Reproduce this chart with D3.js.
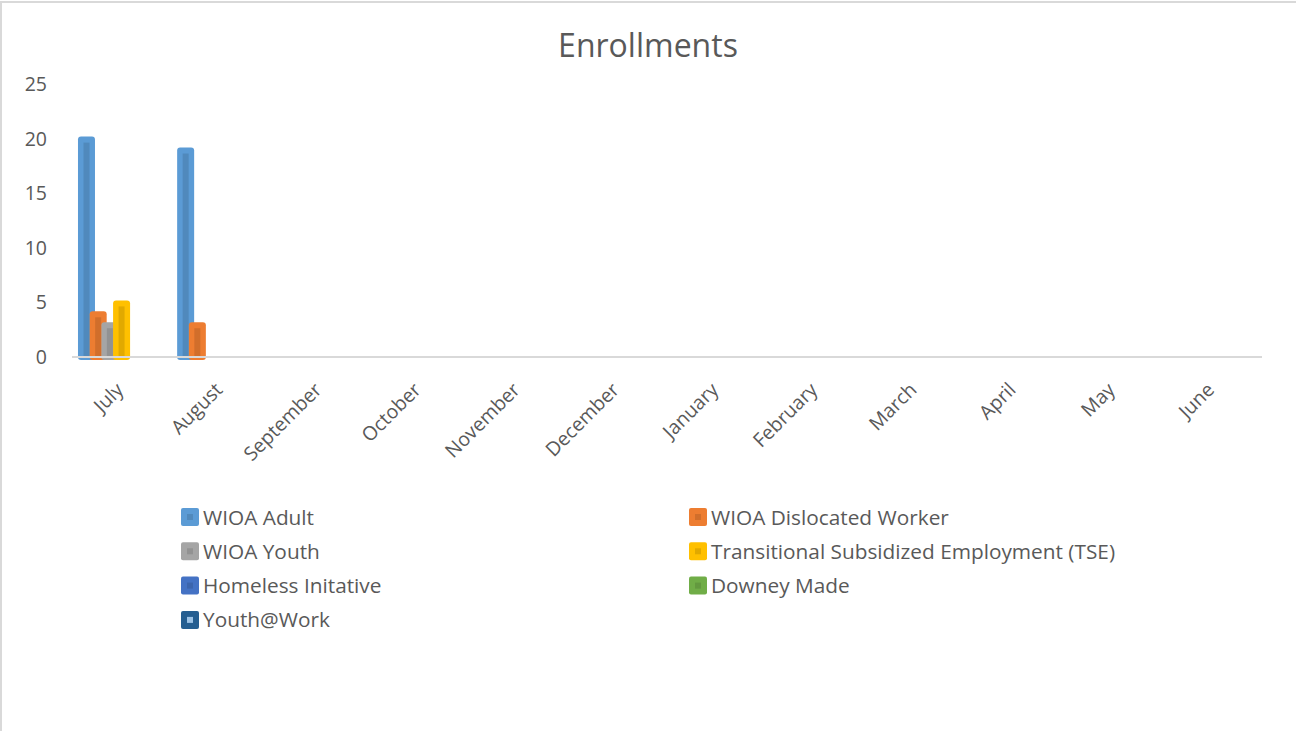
<!DOCTYPE html>
<html>
<head>
<meta charset="utf-8">
<script src="https://cdn.jsdelivr.net/npm/d3@7"></script>
<style>
  body { margin: 0; background: #fff; }
  text { font-family: "Open Sans", Lato, sans-serif; fill: #595959; }
</style>
</head>
<body>
<svg id="chart"></svg>
<script>
const width = 1296;
const height = 731;

// data
const months = ['July', 'August', 'September', 'October', 'November', 'December',
  'January', 'February', 'March', 'April', 'May', 'June'];
const seriesNames = ['WIOA Adult', 'WIOA Dislocated Worker', 'WIOA Youth',
  'Transitional Subsidized Employment (TSE)', 'Homeless Initative', 'Downey Made', 'Youth@Work'];
const colors = ['#5b9bd5', '#ed7d31', '#a5a5a5', '#ffc000', '#4472c4', '#70ad47', '#255e91'];
const wioaAdult = [20, 19, 0, 0, 0, 0, 0, 0, 0, 0, 0, 0];
const wioaDislocated = [4, 3, 0, 0, 0, 0, 0, 0, 0, 0, 0, 0];
const wioaYouth = [3, 0, 0, 0, 0, 0, 0, 0, 0, 0, 0, 0];
const tse = [5, 0, 0, 0, 0, 0, 0, 0, 0, 0, 0, 0];
const homeless = [0, 0, 0, 0, 0, 0, 0, 0, 0, 0, 0, 0];
const downeyMade = [0, 0, 0, 0, 0, 0, 0, 0, 0, 0, 0, 0];
const youthAtWork = [0, 0, 0, 0, 0, 0, 0, 0, 0, 0, 0, 0];
const yTicks = [0, 5, 10, 15, 20, 25];

const allSeries = [wioaAdult, wioaDislocated, wioaYouth, tse, homeless, downeyMade, youthAtWork];

const svg = d3.select('#chart')
  .attr('width', width)
  .attr('height', height);

// outer chart frame (clipped on the right and bottom)
svg.append('rect')
  .attr('x', 1).attr('y', 2)
  .attr('width', width + 20).attr('height', height + 20)
  .attr('fill', 'none')
  .attr('stroke', '#d9d9d9')
  .attr('stroke-width', 2);

svg.append('text')
  .attr('x', 648).attr('y', 57)
  .attr('text-anchor', 'middle')
  .style('font-size', '32px')
  .text('Enrollments');

const xScale = d3.scaleBand()
  .domain(months)
  .range([72, 1262]);

const yScale = d3.scaleLinear()
  .domain([0, 25])
  .range([357, 84]);

// y tick labels
svg.append('g')
  .selectAll('text')
  .data(yTicks)
  .join('text')
  .attr('x', 47)
  .attr('y', d => yScale(d))
  .attr('dy', '0.36em')
  .attr('text-anchor', 'end')
  .style('font-size', '19.5px')
  .text(d => d);

// bars: Excel style overlapping columns
const step = 11.7;
const barW = 17;
const groupW = step * (seriesNames.length - 1) + barW;
const subScale = d3.scaleBand()
  .domain(d3.range(seriesNames.length))
  .range([0, step * seriesNames.length]);

const bars = svg.append('g');
allSeries.forEach((vals, si) => {
  const g = bars.append('g');
  const data = months.map((m, i) => ({month: m, value: vals[i]})).filter(d => d.value > 0);
  const x0 = d => xScale(d.month) + xScale.bandwidth() / 2 - groupW / 2 + subScale(si);
  g.selectAll('rect.outer')
    .data(data)
    .join('rect')
    .attr('class', 'outer')
    .attr('x', d => x0(d))
    .attr('y', d => yScale(d.value) - 2)
    .attr('width', barW)
    .attr('height', d => yScale(0) - yScale(d.value) + 5)
    .attr('rx', 3)
    .attr('fill', colors[si]);
  g.selectAll('rect.inner')
    .data(data)
    .join('rect')
    .attr('class', 'inner')
    .attr('x', d => x0(d) + 5.5)
    .attr('y', d => yScale(d.value) + 4)
    .attr('width', 6)
    .attr('height', d => yScale(0) - yScale(d.value) - 4)
    .attr('fill', d3.color(colors[si]).darker(0.35));
});

// axis line
svg.append('line')
  .attr('x1', 72).attr('x2', 1262)
  .attr('y1', 357).attr('y2', 357)
  .attr('stroke', '#d9d9d9')
  .attr('stroke-width', 2);

// month labels
svg.append('g')
  .selectAll('text')
  .data(months)
  .join('text')
  .attr('transform', d => `translate(${xScale(d) + xScale.bandwidth() / 2 + 3}, 391) rotate(-45)`)
  .attr('text-anchor', 'end')
  .style('font-size', '19.5px')
  .text(d => d);

// legend, two columns
const legend = svg.append('g');
const legendItems = legend.selectAll('g')
  .data(seriesNames)
  .join('g')
  .attr('transform', (d, i) => `translate(${i % 2 === 0 ? 181 : 689}, ${517 + Math.floor(i / 2) * 34.3})`);

legendItems.append('rect')
  .attr('x', 0).attr('y', -9)
  .attr('width', 18).attr('height', 18)
  .attr('rx', 2)
  .attr('fill', (d, i) => colors[i]);

legendItems.append('rect')
  .attr('x', 6).attr('y', -3)
  .attr('width', 6).attr('height', 6)
  .attr('fill', (d, i) => i === 6 ? '#9dc3e6' : d3.color(colors[i]).darker(0.35));

legendItems.append('text')
  .attr('x', 22)
  .attr('y', 0)
  .attr('dy', '0.36em')
  .style('font-size', '20.8px')
  .text(d => d);
</script>
</body>
</html>
